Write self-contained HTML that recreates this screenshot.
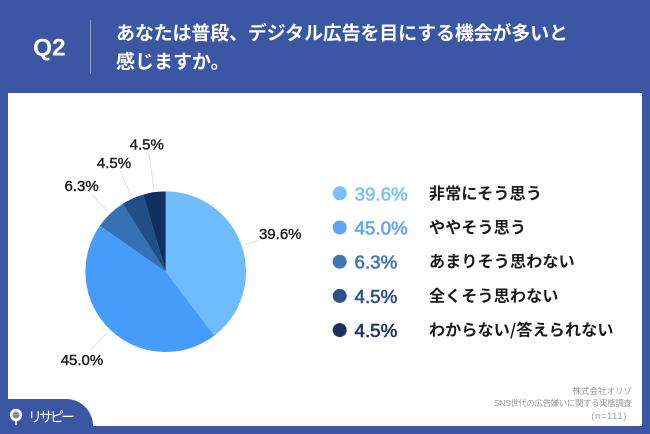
<!DOCTYPE html>
<html lang="ja">
<head>
<meta charset="utf-8">
<title>Q2</title>
<style>
html,body{margin:0;padding:0;background:#3b56a3;}
#stage{display:block;width:650px;height:434px;overflow:hidden;}
text{font-family:"Liberation Sans","Noto Sans CJK JP",sans-serif;}
</style>
</head>
<body>
<svg id="stage" width="650" height="434" viewBox="0 0 650 434" xmlns="http://www.w3.org/2000/svg">
  <rect x="0" y="0" width="650" height="434" fill="#3b56a3"/>
  <rect x="8" y="93" width="634" height="333" fill="#ffffff"/>
  <path d="M0 399H66C81 399 93 411 93 426V434H0Z" fill="#3b56a3"/>
  <text x="33" y="55.500" font-size="24.500" font-weight="700" fill="#ffffff">Q2</text>
  <line x1="90.500" y1="20" x2="90.500" y2="74" stroke="#8e9fcd" stroke-width="1"/>
  <text x="116" y="39.500" font-size="19" font-weight="700" fill="#ffffff" textLength="452">あなたは普段、デジタル広告を目にする機会が多いと</text>
  <text x="116" y="68" font-size="19" font-weight="700" fill="#ffffff">感じますか。</text>
  <g id="pie"></g>
  <g id="legend"></g>
  <g font-size="8.500" fill="#9a9a9a" text-anchor="end">
    <text x="632" y="394">株式会社オリゾ</text>
    <text x="632" y="406" textLength="138">SNS世代の広告嫌いに関する実態調査</text>
    <text x="627" y="419" font-size="9.500" letter-spacing="0.6">(n=111)</text>
  </g>
  <g>
    <circle cx="16" cy="415" r="6.200" fill="#ffffff"/>
    <circle cx="16" cy="415" r="3.600" fill="#7f8fad"/>
    <line x1="16" y1="421" x2="16" y2="425" stroke="#ffffff" stroke-width="1.500"/>
    <text x="28" y="422" font-size="14" font-weight="400" fill="#ffffff" textLength="47">リサピー</text>
  </g>
</svg>
<script>
const categories = ["非常にそう思う", "ややそう思う", "あまりそう思わない", "全くそう思わない", "わからない/答えられない"];
const seriesValues = [39.6, 45.0, 6.3, 4.5, 4.5];
const sliceColors = ["#6fbbfb", "#459cfb", "#3572b5", "#1f4f86", "#12305f"];
const legendColors = ["#7dbdf9", "#5fa4f5", "#4375b2", "#2c5088", "#1b3363"];

const NS = "http://www.w3.org/2000/svg";
const cx = 165.7, cy = 271.7, radius = 80.3;
const leaderStart = 84;
const leaderEnd = [98, 109, 107, 111, 120];
const labelShift = [[21.7, -7], [-8.3, 9.3], [-10, -9], [-6, -8], [-2, -9]];
const legendX = 339.7, legendY = 193.3, legendStep = 34.2;

const total = seriesValues.reduce((a, b) => a + b, 0);
const angleOf = v => v / total * Math.PI * 2;
const px = (r, a) => cx + r * Math.sin(a);
const py = (r, a) => cy - r * Math.cos(a);
const fmt = v => v.toFixed(1) + "%";

function make(tag, attrs, parent, text) {
  const el = document.createElementNS(NS, tag);
  for (const k in attrs) el.setAttribute(k, attrs[k]);
  if (text !== undefined) el.textContent = text;
  parent.appendChild(el);
  return el;
}

const pie = document.getElementById("pie");
const legend = document.getElementById("legend");
let cumulative = 0;

seriesValues.forEach((v, i) => {
  const a0 = angleOf(cumulative);
  const a1 = angleOf(cumulative + v);
  const mid = (a0 + a1) / 2;
  cumulative += v;

  const large = a1 - a0 > Math.PI ? 1 : 0;
  const d = "M" + cx + " " + cy + "L" + px(radius, a0) + " " + py(radius, a0) +
            "A" + radius + " " + radius + " 0 " + large + " 1 " + px(radius, a1) + " " + py(radius, a1) + "Z";
  const slice = make("path", {d: d, fill: sliceColors[i]}, pie);
  
  

  const ex = px(leaderEnd[i], mid), ey = py(leaderEnd[i], mid);
  const leader = make("line", {x1: px(leaderStart, mid), y1: py(leaderStart, mid), x2: ex, y2: ey, stroke: "#d8d8d8", "stroke-width": 0.8}, pie);
  
  

  const label = make("text", {
    x: ex + labelShift[i][0], y: ey + labelShift[i][1] + 5.4,
    "font-size": 15, "text-anchor": "middle", fill: "#1c1c1c",
    stroke: "#1c1c1c", "stroke-width": 0.4
  }, pie, fmt(v));
  
  

  const rowY = legendY + i * legendStep;
  const row = make("g", {}, legend);
  
  

  const dot = make("circle", {cx: legendX, cy: rowY, r: 7, fill: legendColors[i]}, row);
  
  

  const pct = make("text", {
    x: 354.5, y: rowY + 7, "font-size": 18.8, fill: legendColors[i],
    stroke: legendColors[i], "stroke-width": 0.6
  }, row, fmt(v));
  
  

  const name = make("text", {
    x: 429, y: rowY + 5.5, "font-size": 16, "font-weight": 700, fill: "#1a1a1a",
    "letter-spacing": 0.2, style: 'font-family:"Noto Sans CJK JP",sans-serif'
  }, row, categories[i]);
  
  
});
</script>
</body>
</html>
